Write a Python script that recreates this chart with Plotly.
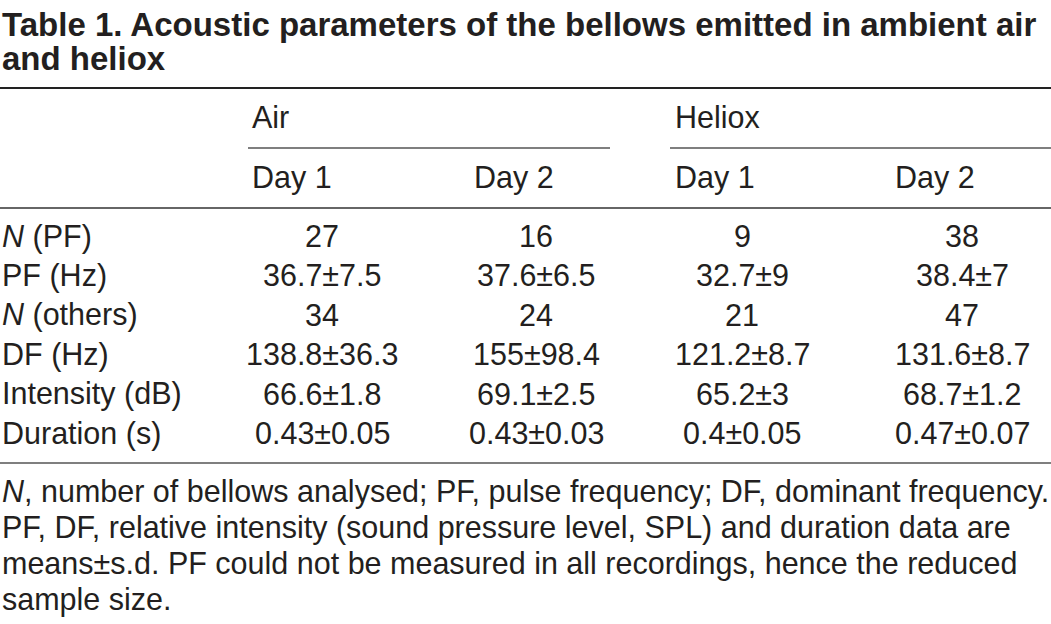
import plotly.graph_objects as go

W, H = 1051, 624
FONT = "Liberation Sans, Arial, sans-serif"
TXT = "#231f20"

title_lines = ["Table 1. Acoustic parameters of the bellows emitted in ambient air",
               "and heliox"]
groups = ["Air", "Heliox"]
subheads = ["Day 1", "Day 2", "Day 1", "Day 2"]
row_labels = ["<i>N</i> (PF)", "PF (Hz)", "<i>N</i> (others)", "DF (Hz)",
              "Intensity (dB)", "Duration (s)"]
air_day1 = ["27", "36.7±7.5", "34", "138.8±36.3", "66.6±1.8", "0.43±0.05"]
air_day2 = ["16", "37.6±6.5", "24", "155±98.4", "69.1±2.5", "0.43±0.03"]
heliox_day1 = ["9", "32.7±9", "21", "121.2±8.7", "65.2±3", "0.4±0.05"]
heliox_day2 = ["38", "38.4±7", "47", "131.6±8.7", "68.7±1.2", "0.47±0.07"]
footnote = ["<i>N</i>, number of bellows analysed; PF, pulse frequency; DF, dominant frequency.",
            "PF, DF, relative intensity (sound pressure level, SPL) and duration data are",
            "means±s.d. PF could not be measured in all recordings, hence the reduced",
            "sample size."]

columns = [air_day1, air_day2, heliox_day1, heliox_day2]

# layout constants (pixels)
col_left = [250, 472, 673, 893]
col_center = [322, 536, 742, 962]
group_left = [250, 673]
group_rule = [(248, 610), (670, 1051)]
title_y = [24, 58]
group_y = 117
sub_y = 177
row_y0, row_dy = 236, 39.4
foot_y0, foot_dy = 491, 36
rules = [(88, 0, W, 2.2, "#222"), (208, 0, W, 1.6, "#333"), (463, 0, W, 1.6, "#555")]
BODY = 30.5
TITLE = 33

fig = go.Figure()
fig.add_trace(go.Scatter(x=[0, W], y=[0, H], mode="markers",
                         marker=dict(opacity=0), hoverinfo="skip", showlegend=False))
ann = []
def add(text, x, y, size, xanchor="left", bold=False):
    ann.append(dict(text=f"<b>{text}</b>" if bold else text, x=x, y=y, xref="x", yref="y",
                    xanchor=xanchor, yanchor="middle", showarrow=False,
                    font=dict(family=FONT, size=size, color=TXT)))

for i, t in enumerate(title_lines):
    add(t, 0, title_y[i], TITLE, bold=True)
for i, g in enumerate(groups):
    add(g, group_left[i], group_y, BODY)
for i, s in enumerate(subheads):
    add(s, col_left[i], sub_y, BODY)
for r, lab in enumerate(row_labels):
    y = row_y0 + r * row_dy
    add(lab, 0, y, BODY)
    for c, col in enumerate(columns):
        add(col[r], col_center[c], y, BODY, xanchor="center")
for i, f in enumerate(footnote):
    add(f, 0, foot_y0 + i * foot_dy, BODY)

shapes = []
for y, x0, x1, w, colr in rules:
    shapes.append(dict(type="line", x0=x0, x1=x1, y0=y, y1=y, xref="x", yref="y",
                       line=dict(color=colr, width=w)))
for x0, x1 in group_rule:
    shapes.append(dict(type="line", x0=x0, x1=x1, y0=148, y1=148, xref="x", yref="y",
                       line=dict(color="#555", width=1.4)))

fig.update_layout(width=W, height=H, margin=dict(l=0, r=0, t=0, b=0),
                  paper_bgcolor="white", plot_bgcolor="white",
                  xaxis=dict(range=[0, W], visible=False, fixedrange=True),
                  yaxis=dict(range=[H, 0], visible=False, fixedrange=True),
                  annotations=ann, shapes=shapes)
fig.write_html("out.html", config={"displayModeBar": False},
               post_script="document.body.style.margin='0';document.body.style.overflow='hidden';")
